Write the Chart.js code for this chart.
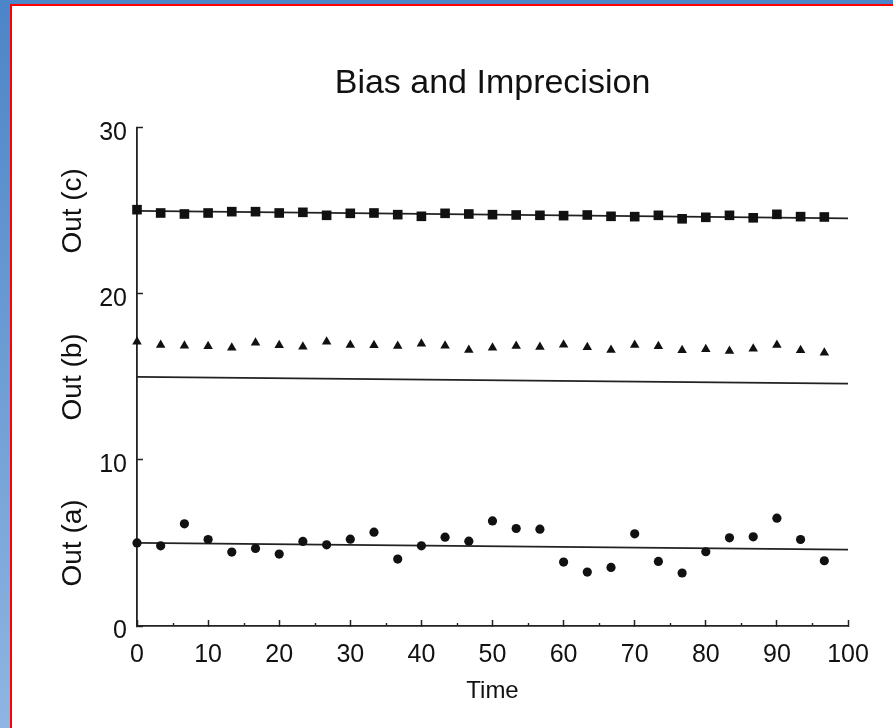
<!DOCTYPE html>
<html lang="en">
<head>
    <meta charset="UTF-8">
    <title>Bias and Imprecision</title>
    <script src="https://cdn.jsdelivr.net/npm/chart.js"></script>
    <style>
        html, body { margin: 0; padding: 0; }
        body {
            width: 893px; height: 728px; overflow: hidden; position: relative;
            background: linear-gradient(to bottom, #4c85c8, #8fb5e2);
        }
        #panel {
            position: absolute; left: 10px; top: 4px; right: 0; bottom: 0;
            background: #fff; border-left: 2px solid #f00; border-top: 2px solid #f00;
        }
        #myChart { position: absolute; left: 0; top: 0; }
    </style>
</head>
<body>
    <div id="panel"></div>
    <canvas id="myChart" width="893" height="728"></canvas>

    <script>
        // 측정 시점 (0 ~ 96.7, 간격 10/3)
        var times = [0, 3.33, 6.67, 10, 13.33, 16.67, 20, 23.33, 26.67, 30,
                     33.33, 36.67, 40, 43.33, 46.67, 50, 53.33, 56.67, 60, 63.33,
                     66.67, 70, 73.33, 76.67, 80, 83.33, 86.67, 90, 93.33, 96.67];

        // Out (a): 부정확 (imprecision)
        var outA = [5.0, 4.83, 6.15, 5.21, 4.45, 4.67, 4.33, 5.09, 4.89, 5.23,
                    5.65, 4.03, 4.83, 5.35, 5.11, 6.33, 5.87, 5.83, 3.85, 3.25,
                    3.53, 5.55, 3.89, 3.19, 4.47, 5.31, 5.37, 6.49, 5.21, 3.93];
        // Out (b): 편향 (bias)
        var outB = [17.12, 16.92, 16.88, 16.84, 16.76, 17.06, 16.90, 16.82, 17.12, 16.92,
                    16.90, 16.86, 17.0, 16.88, 16.62, 16.76, 16.86, 16.80, 16.94, 16.78,
                    16.62, 16.92, 16.84, 16.60, 16.66, 16.56, 16.70, 16.92, 16.60, 16.46];
        // Out (c): 정상
        var outC = [25.07, 24.87, 24.81, 24.87, 24.95, 24.95, 24.87, 24.91, 24.73, 24.85,
                    24.87, 24.77, 24.67, 24.85, 24.81, 24.77, 24.75, 24.73, 24.71, 24.75,
                    24.67, 24.65, 24.73, 24.52, 24.61, 24.73, 24.58, 24.79, 24.65, 24.63];

        // 기준선 (x = 0, x = 100 에서의 값)
        var refX = [0, 100];
        var refA = [5.0, 4.6];
        var refB = [15.0, 14.6];
        var refC = [25.0, 24.55];

        // 축 눈금
        var xMinorTicks = [5, 15, 25, 35, 45, 55, 65, 75, 85, 95];
        var outNames = ['Out (a)', 'Out (b)', 'Out (c)'];
        var outLevels = [5, 15, 25];

        function toPoints(xs, ys) {
            return xs.map(function (x, i) { return { x: x, y: ys[i] }; });
        }

        function pointSet(ys, style, r) {
            return {
                data: toPoints(times, ys),
                pointStyle: style,
                pointRadius: r,
                pointHoverRadius: r,
                backgroundColor: '#111',
                borderColor: '#111',
                borderWidth: 0,
                showLine: false,
                clip: false
            };
        }

        function lineSet(ys) {
            return {
                data: toPoints(refX, ys),
                showLine: true,
                pointRadius: 0,
                borderColor: '#222',
                borderWidth: 1.7,
                clip: false
            };
        }

        // 세로 라벨과 보조 눈금
        var extras = {
            id: 'extras',
            afterDraw: function (chart) {
                var ctx = chart.ctx;
                var xs = chart.scales.x, ys = chart.scales.y;
                ctx.save();
                ctx.strokeStyle = '#222';
                ctx.lineWidth = 1.4;
                var y0 = ys.getPixelForValue(0);
                xMinorTicks.forEach(function (v) {
                    var px = Math.round(xs.getPixelForValue(v)) + 0.5;
                    ctx.beginPath();
                    ctx.moveTo(px, y0);
                    ctx.lineTo(px, y0 - 3);
                    ctx.stroke();
                });
                ctx.fillStyle = '#111';
                ctx.font = '28px "Liberation Sans", Arial, sans-serif';
                ctx.textAlign = 'center';
                ctx.textBaseline = 'middle';
                outNames.forEach(function (name, i) {
                    ctx.save();
                    ctx.translate(73, ys.getPixelForValue(outLevels[i]));
                    ctx.rotate(-Math.PI / 2);
                    ctx.fillText(name, 0, 0);
                    ctx.restore();
                });
                ctx.restore();
            }
        };

        var config = {
            type: 'scatter',
            data: {
                datasets: [
                    pointSet(outA, 'circle', 4.6),
                    pointSet(outB, 'triangle', 5.5),
                    pointSet(outC, 'rect', 6.8),
                    lineSet(refA),
                    lineSet(refB),
                    lineSet(refC)
                ]
            },
            options: {
                responsive: false,
                animation: false,
                layout: { padding: { left: 0, right: 45, top: 0, bottom: 0 } },
                plugins: {
                    legend: { display: false },
                    tooltip: { enabled: false },
                    title: {
                        display: true,
                        text: 'Bias and Imprecision',
                        color: '#111',
                        fullSize: false,
                        font: { family: '"Liberation Sans", Arial, sans-serif', size: 34, weight: 'normal' },
                        padding: { top: 63, bottom: 24 }
                    }
                },
                scales: {
                    x: {
                        type: 'linear',
                        min: 0,
                        max: 100,
                        afterFit: function (s) { s.height = 102; },
                        border: { display: true, color: '#222', width: 1.8 },
                        grid: { display: true, drawOnChartArea: false, drawTicks: true, tickLength: -6, tickWidth: 1.5, tickColor: '#222' },
                        ticks: {
                            stepSize: 10,
                            padding: 20,
                            color: '#111',
                            maxRotation: 0,
                            font: { family: '"Liberation Sans", Arial, sans-serif', size: 25 }
                        },
                        title: {
                            display: true,
                            text: 'Time',
                            color: '#111',
                            font: { family: '"Liberation Sans", Arial, sans-serif', size: 24 },
                            padding: { top: 0, bottom: 22 }
                        }
                    },
                    y: {
                        type: 'linear',
                        min: 0,
                        max: 30,
                        afterFit: function (s) { s.width = 137; },
                        border: { display: true, color: '#222', width: 1.8 },
                        grid: { display: true, drawOnChartArea: false, drawTicks: true, tickLength: -6, tickWidth: 1.5, tickColor: '#222' },
                        ticks: {
                            stepSize: 10,
                            padding: 16,
                            labelOffset: 5,
                            color: '#111',
                            font: { family: '"Liberation Sans", Arial, sans-serif', size: 25 }
                        }
                    }
                }
            },
            plugins: [extras]
        };

        var ctx = document.getElementById('myChart').getContext('2d');
        var chart = new Chart(ctx, config);
    </script>
</body>
</html>
